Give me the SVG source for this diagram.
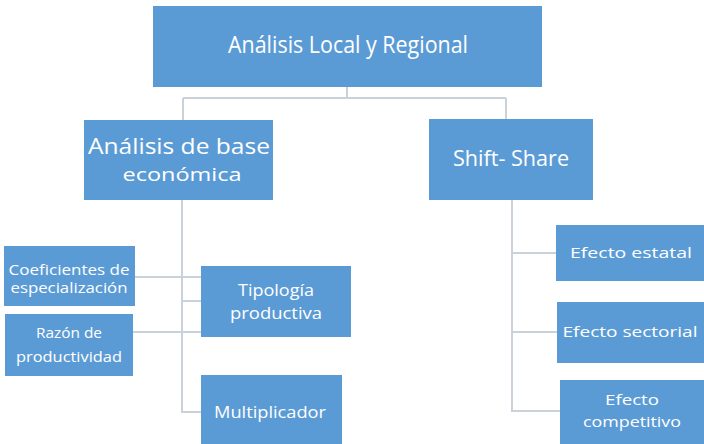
<svg xmlns="http://www.w3.org/2000/svg" width="704" height="444" viewBox="0 0 704 444">
<style>
.box{fill:#5b9bd5;}
.t{fill:#ffffff;font-family:"Open Sans","Noto Sans","DejaVu Sans",sans-serif;text-anchor:middle;}
.c{stroke:#c9d1da;stroke-width:2;fill:none;}
</style>
<rect width="704" height="444" fill="#ffffff"/>
<g id="connectors">
<path class="c" d="M347 87 V98 M183 98 H506 M183 98 V120 M506 98 V119"/>
<path class="c" d="M182 200 V412 H201 M182 301 H201 M135 277 H201 M133 332 H201"/>
<path class="c" d="M512 200 V411 H560 M512 253 H556 M512 332 H557"/>
</g>
<g id="n-root"><rect class="box" x="153" y="6" width="389" height="81"/><text class="t" x="348" y="53" font-size="23" textLength="240" lengthAdjust="spacingAndGlyphs">Análisis Local y Regional</text></g>
<g id="n-base"><rect class="box" x="84" y="120" width="189" height="80"/><text class="t" x="179" y="154" font-size="21" textLength="182" lengthAdjust="spacingAndGlyphs">Análisis de base</text><text class="t" x="182" y="181" font-size="19" textLength="119" lengthAdjust="spacingAndGlyphs">económica</text></g>
<g id="n-shift"><rect class="box" x="429" y="119" width="164" height="81"/><text class="t" x="511" y="166" font-size="22" textLength="116" lengthAdjust="spacingAndGlyphs">Shift- Share</text></g>
<g id="n-coef"><rect class="box" x="4" y="246" width="131" height="60"/><text class="t" x="69" y="275" font-size="14" textLength="121" lengthAdjust="spacingAndGlyphs">Coeficientes de</text><text class="t" x="69" y="293" font-size="14" textLength="117" lengthAdjust="spacingAndGlyphs">especialización</text></g>
<g id="n-razon"><rect class="box" x="5" y="314" width="128" height="62"/><text class="t" x="69" y="338" font-size="14" textLength="66" lengthAdjust="spacingAndGlyphs">Razón de</text><text class="t" x="69" y="362" font-size="14" textLength="106" lengthAdjust="spacingAndGlyphs">productividad</text></g>
<g id="n-tipo"><rect class="box" x="201" y="266" width="150" height="71"/><text class="t" x="276" y="296" font-size="17" textLength="76" lengthAdjust="spacingAndGlyphs">Tipología</text><text class="t" x="276" y="319" font-size="17" textLength="92" lengthAdjust="spacingAndGlyphs">productiva</text></g>
<g id="n-mult"><rect class="box" x="201" y="375" width="141" height="69"/><text class="t" x="270" y="418" font-size="16" textLength="112" lengthAdjust="spacingAndGlyphs">Multiplicador</text></g>
<g id="n-estatal"><rect class="box" x="556" y="225" width="148" height="56"/><text class="t" x="631" y="258" font-size="14" textLength="122" lengthAdjust="spacingAndGlyphs">Efecto estatal</text></g>
<g id="n-sectorial"><rect class="box" x="557" y="302" width="147" height="61"/><text class="t" x="630" y="337" font-size="14" textLength="135" lengthAdjust="spacingAndGlyphs">Efecto sectorial</text></g>
<g id="n-compet"><rect class="box" x="560" y="380" width="144" height="64"/><text class="t" x="632" y="405" font-size="14" textLength="54" lengthAdjust="spacingAndGlyphs">Efecto</text><text class="t" x="632" y="427" font-size="14" textLength="98" lengthAdjust="spacingAndGlyphs">competitivo</text></g>
</svg>
